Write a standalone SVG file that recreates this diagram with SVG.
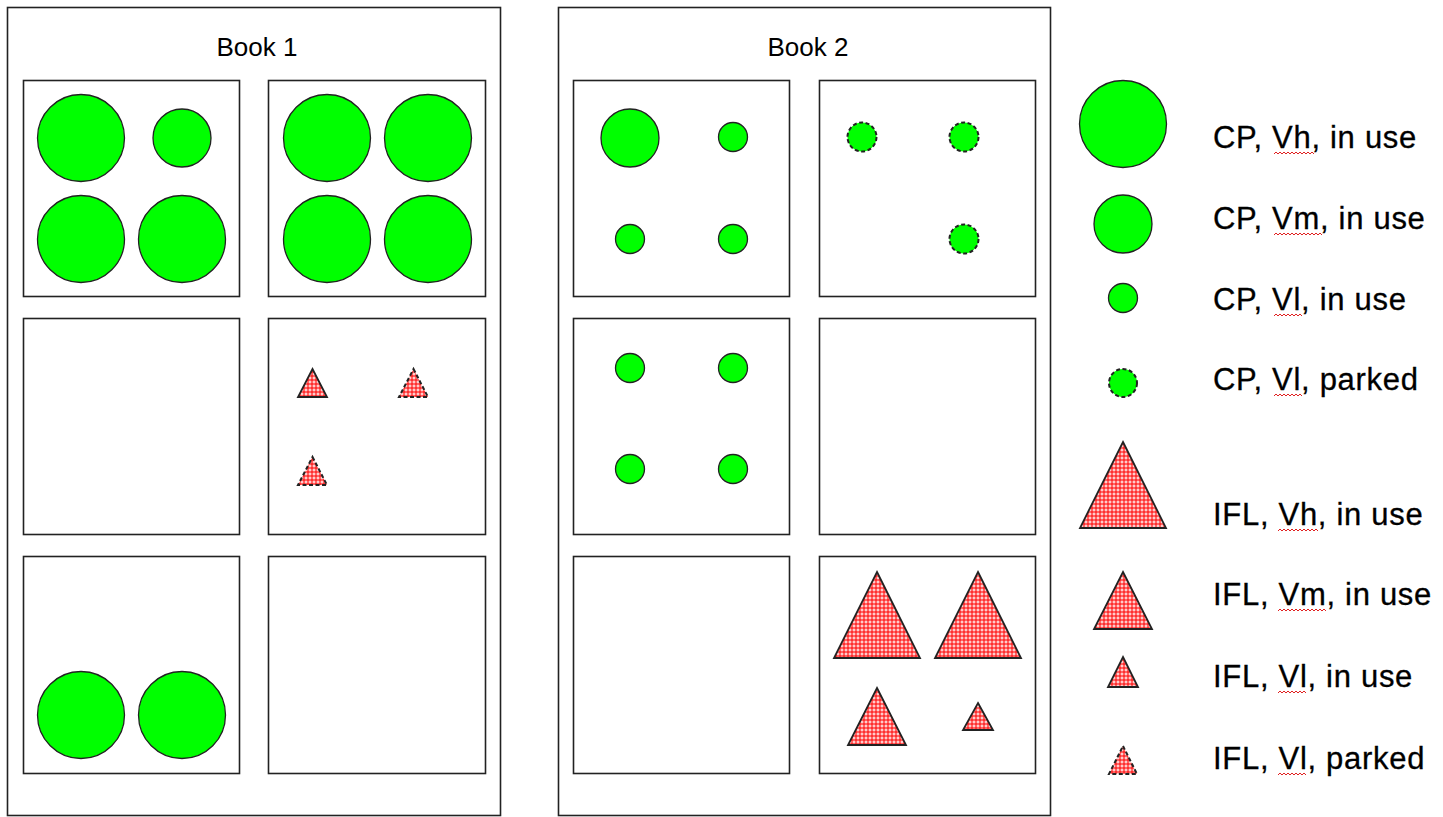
<svg xmlns="http://www.w3.org/2000/svg" width="1443" height="817" viewBox="0 0 1443 817">
<style>
.frame{fill:#fff;stroke:#222;stroke-width:1.6}
.box{fill:none;stroke:#222;stroke-width:1.6}
.cp{fill:#00ff00;stroke:#222;stroke-width:1.3}
.cpp{fill:#00ff00;stroke:#222;stroke-width:2;stroke-dasharray:4 2.5}
.ifl{fill:url(#hatch);stroke:#222;stroke-width:1.8;stroke-linejoin:miter}
.iflp{fill:url(#hatch);stroke:#222;stroke-width:2;stroke-dasharray:4 2.5}
.title{font-family:"Liberation Sans",Arial,sans-serif;font-size:26px;fill:#000;text-anchor:middle}
.lbl{font-family:"Liberation Sans",Arial,sans-serif;font-size:31px;letter-spacing:0.7px;fill:#000;stroke:#000;stroke-width:0.3}
.sq{fill:none;stroke:#e02020;stroke-width:1}
</style>
<defs>
<pattern id="hatch" width="4" height="4" patternUnits="userSpaceOnUse">
<rect width="4" height="4" fill="#ff3030"/>
<rect x="1.5" y="0.5" width="1" height="3" fill="#fff"/>
<rect x="0.5" y="1.5" width="3" height="1" fill="#fff"/>
</pattern>
</defs>
<rect width="1443" height="817" fill="#fff"/>

<g id="book1">
<rect class="frame" x="7.5" y="7.5" width="493" height="808"/>
<text class="title" x="257" y="56">Book 1</text>
</g>
<g id="book2">
<rect class="frame" x="558.5" y="7.5" width="492" height="808"/>
<text class="title" x="808" y="56">Book 2</text>
</g>

<g id="b1-box1">
<rect class="box" x="23.5" y="80.5" width="216" height="216"/>
<circle class="cp" cx="81" cy="138" r="43.5"/>
<circle class="cp" cx="182" cy="138" r="29"/>
<circle class="cp" cx="81" cy="239" r="43.5"/>
<circle class="cp" cx="182" cy="239" r="43.5"/>
</g>
<g id="b1-box2">
<rect class="box" x="268.5" y="80.5" width="217" height="216"/>
<circle class="cp" cx="327" cy="138" r="43.5"/>
<circle class="cp" cx="428" cy="138" r="43.5"/>
<circle class="cp" cx="327" cy="239" r="43.5"/>
<circle class="cp" cx="428" cy="239" r="43.5"/>
</g>
<g id="b1-box3">
<rect class="box" x="23.5" y="318.5" width="216" height="216"/>
</g>
<g id="b1-box4">
<rect class="box" x="268.5" y="318.5" width="217" height="216"/>
<polygon class="ifl" points="312.5,369 327,397 298,397"/>
<polygon class="iflp" points="413.5,369 428,397 399,397"/>
<polygon class="iflp" points="312.5,457 327,485 298,485"/>
</g>
<g id="b1-box5">
<rect class="box" x="23.5" y="556.5" width="216" height="217"/>
<circle class="cp" cx="81" cy="715" r="43.5"/>
<circle class="cp" cx="182" cy="715" r="43.5"/>
</g>
<g id="b1-box6">
<rect class="box" x="268.5" y="556.5" width="217" height="217"/>
</g>

<g id="b2-box1">
<rect class="box" x="573.5" y="80.5" width="216" height="216"/>
<circle class="cp" cx="630" cy="138" r="29"/>
<circle class="cp" cx="733" cy="137" r="14.5"/>
<circle class="cp" cx="630" cy="239" r="14.5"/>
<circle class="cp" cx="733" cy="239" r="14.5"/>
</g>
<g id="b2-box2">
<rect class="box" x="819.5" y="80.5" width="216" height="216"/>
<circle class="cpp" cx="862" cy="137" r="14.5"/>
<circle class="cpp" cx="964" cy="137" r="14.5"/>
<circle class="cpp" cx="964" cy="239" r="14.5"/>
</g>
<g id="b2-box3">
<rect class="box" x="573.5" y="318.5" width="216" height="216"/>
<circle class="cp" cx="630" cy="368" r="14.5"/>
<circle class="cp" cx="733" cy="368" r="14.5"/>
<circle class="cp" cx="630" cy="469" r="14.5"/>
<circle class="cp" cx="733" cy="469" r="14.5"/>
</g>
<g id="b2-box4">
<rect class="box" x="819.5" y="318.5" width="216" height="216"/>
</g>
<g id="b2-box5">
<rect class="box" x="573.5" y="556.5" width="216" height="217"/>
</g>
<g id="b2-box6">
<rect class="box" x="819.5" y="556.5" width="216" height="217"/>
<polygon class="ifl" points="877,572 920,658 834,658"/>
<polygon class="ifl" points="978,572 1021,658 935,658"/>
<polygon class="ifl" points="877,688 906,745 848,745"/>
<polygon class="ifl" points="978,703 993,730 963,730"/>
</g>

<g id="legend">
<circle class="cp" cx="1123" cy="124" r="43.5"/>
<circle class="cp" cx="1123" cy="224" r="29"/>
<circle class="cp" cx="1123" cy="298" r="14.5"/>
<circle class="cpp" cx="1123" cy="383" r="14"/>
<polygon class="ifl" points="1123,442 1166,528 1080,528"/>
<polygon class="ifl" points="1123,572 1152,629 1094,629"/>
<polygon class="ifl" points="1123,657 1138,687 1108,687"/>
<polygon class="iflp" points="1123,746 1137,774 1109,774"/>
<text class="lbl" x="1213" y="148">CP, Vh, in use</text>
<text class="lbl" x="1213" y="229">CP, Vm, in use</text>
<text class="lbl" x="1213" y="310">CP, Vl, in use</text>
<text class="lbl" x="1213" y="390">CP, Vl, parked</text>
<text class="lbl" x="1213" y="525">IFL, Vh, in use</text>
<text class="lbl" x="1213" y="605">IFL, Vm, in use</text>
<text class="lbl" x="1213" y="687">IFL, Vl, in use</text>
<text class="lbl" x="1213" y="769">IFL, Vl, parked</text>
<path class="sq" d="M1274,154 l2,-2 l2,2 l2,-2 l2,2 l2,-2 l2,2 l2,-2 l2,2 l2,-2 l2,2 l2,-2 l2,2 l2,-2 l2,2 l2,-2 l2,2 l2,-2 l2,2 l2,-2 l2,2"/>
<path class="sq" d="M1274,235 l2,-2 l2,2 l2,-2 l2,2 l2,-2 l2,2 l2,-2 l2,2 l2,-2 l2,2 l2,-2 l2,2 l2,-2 l2,2 l2,-2 l2,2 l2,-2 l2,2 l2,-2 l2,2 l2,-2 l2,2 l2,-2 l2,2"/>
<path class="sq" d="M1274,316 l2,-2 l2,2 l2,-2 l2,2 l2,-2 l2,2 l2,-2 l2,2 l2,-2 l2,2 l2,-2 l2,2 l2,-2 l2,2"/>
<path class="sq" d="M1274,396 l2,-2 l2,2 l2,-2 l2,2 l2,-2 l2,2 l2,-2 l2,2 l2,-2 l2,2 l2,-2 l2,2 l2,-2 l2,2"/>
<path class="sq" d="M1278,531 l2,-2 l2,2 l2,-2 l2,2 l2,-2 l2,2 l2,-2 l2,2 l2,-2 l2,2 l2,-2 l2,2 l2,-2 l2,2 l2,-2 l2,2 l2,-2 l2,2 l2,-2 l2,2"/>
<path class="sq" d="M1278,611 l2,-2 l2,2 l2,-2 l2,2 l2,-2 l2,2 l2,-2 l2,2 l2,-2 l2,2 l2,-2 l2,2 l2,-2 l2,2 l2,-2 l2,2 l2,-2 l2,2 l2,-2 l2,2 l2,-2 l2,2 l2,-2 l2,2"/>
<path class="sq" d="M1278,693 l2,-2 l2,2 l2,-2 l2,2 l2,-2 l2,2 l2,-2 l2,2 l2,-2 l2,2 l2,-2 l2,2 l2,-2 l2,2"/>
<path class="sq" d="M1278,775 l2,-2 l2,2 l2,-2 l2,2 l2,-2 l2,2 l2,-2 l2,2 l2,-2 l2,2 l2,-2 l2,2 l2,-2 l2,2"/>
</g>
<g id="connectors"></g>
</svg>
